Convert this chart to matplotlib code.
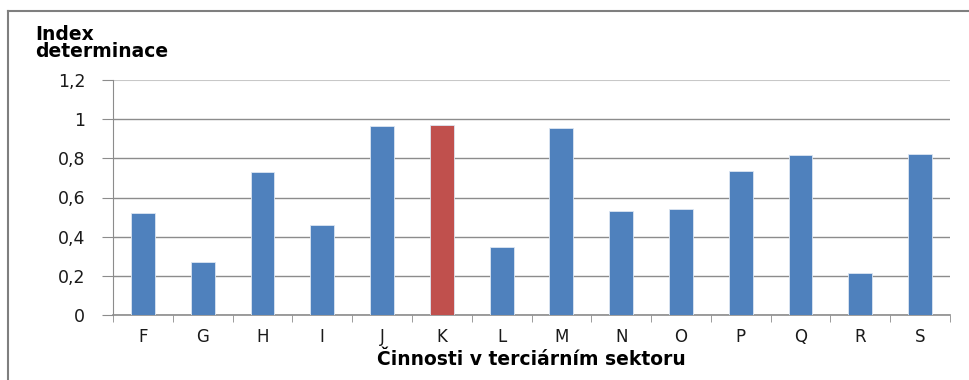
import matplotlib
matplotlib.use("Agg")
import matplotlib.pyplot as plt
from matplotlib.lines import Line2D
from matplotlib.ticker import FuncFormatter

CATEGORIES = ["F", "G", "H", "I", "J", "K", "L", "M", "N", "O", "P", "Q", "R", "S"]
VALUES = [0.522, 0.272, 0.729, 0.46, 0.965, 0.97, 0.347, 0.953, 0.53, 0.543, 0.737, 0.816, 0.213, 0.821]
HIGHLIGHT = "K"

BLUE = "#4F81BD"
RED = "#C0504D"
GRID = "#8C8C8C"

plt.rcParams["font.family"] = ["DejaVu Sans"]

W, H = 970, 380
fig = plt.figure(figsize=(W / 100, H / 100), dpi=100)
ax = fig.add_axes([113 / W, 1 - 315 / H, (950 - 113) / W, (315 - 80) / H])

colors = [RED if c == HIGHLIGHT else BLUE for c in CATEGORIES]
x = list(range(len(CATEGORIES)))
ax.bar(x, VALUES, width=0.4, color=colors, edgecolor="#DCE6F2", linewidth=0.6, zorder=3)

ax.set_xlim(-0.5, len(CATEGORIES) - 0.5)
ax.set_ylim(0, 1.2)
ax.set_yticks([0, 0.2, 0.4, 0.6, 0.8, 1.0, 1.2])


def comma(v, _pos):
    s = f"{v:.1f}".rstrip("0").rstrip(".")
    return s.replace(".", ",")


ax.yaxis.set_major_formatter(FuncFormatter(comma))
ax.yaxis.grid(True, color=GRID, linewidth=1.0, zorder=0)
ax.set_axisbelow(True)
# the top gridline is drawn lighter in the original
ax.get_ygridlines()[-1].set_color("#C8C8C8")
ax.get_ygridlines()[-1].set_linewidth(1.5)

ax.set_xticks(x)
ax.set_xticklabels(CATEGORIES)
ax.set_xticks([i + 0.5 for i in range(-1, len(CATEGORIES))], minor=True)
ax.tick_params(axis="x", which="major", length=0, pad=9, labelsize=12, labelcolor="#1A1A1A")
ax.tick_params(axis="x", which="minor", length=5, color=GRID, direction="out")
ax.tick_params(axis="y", length=8, color=GRID, pad=12, labelsize=12.5, labelcolor="#1A1A1A")

for side in ("top", "right"):
    ax.spines[side].set_visible(False)
ax.spines["left"].set_color(GRID)
ax.spines["bottom"].set_color(GRID)
ax.spines["bottom"].set_linewidth(1.2)

ax.set_xlabel("Činnosti v terciárním sektoru", fontsize=13.5, fontweight="bold", labelpad=3)

fig.text(35 / W, 1 - 57 / H, "Index\ndeterminace", fontsize=13.5, fontweight="bold",
         ha="left", va="baseline", linespacing=0.9)

# outer chart frame (left and top edges visible)
fig.add_artist(Line2D([8 / W, 8 / W], [0, 1 - 11 / H], transform=fig.transFigure,
                      color="#7F7F7F", linewidth=1.5))
fig.add_artist(Line2D([8 / W, 1], [1 - 11 / H, 1 - 11 / H], transform=fig.transFigure,
                      color="#7F7F7F", linewidth=1.5))

fig.savefig("out.png", dpi=100)
